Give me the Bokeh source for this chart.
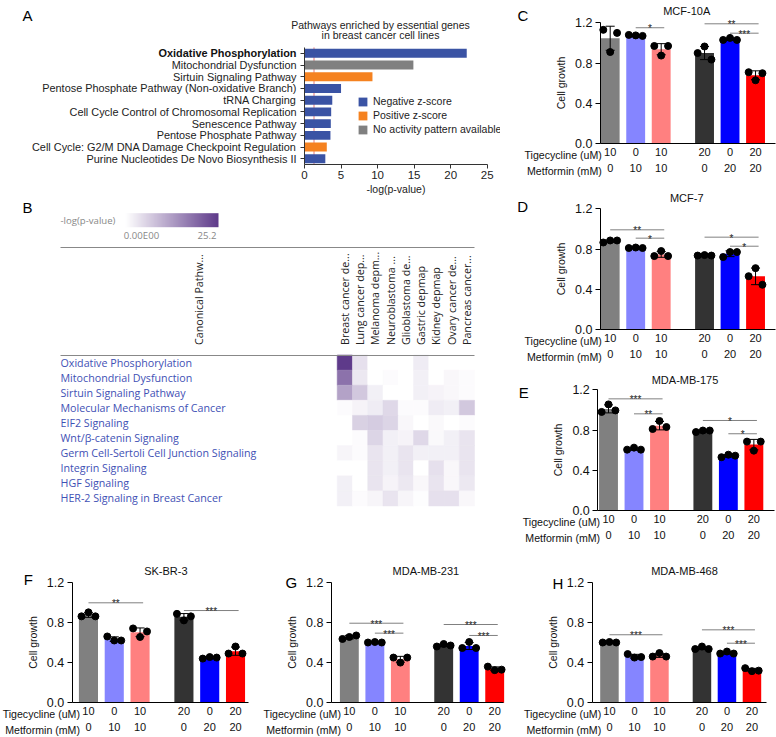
import numpy as np
from bokeh.plotting import figure
from bokeh.layouts import row, column
from bokeh.models import (Range1d, FixedTicker, LinearAxis, Label, Legend, LegendItem,
                          LinearColorMapper, ColorBar, Whisker, TeeHead, ColumnDataSource,
                          NumeralTickFormatter)
from bokeh.core.properties import value
from bokeh.embed import file_html
from bokeh.resources import INLINE

ARIAL = "Liberation Sans"
LUCIDA = "Open Sans"

# ---------------- Panel A data ----------------
a_title_1 = "Pathways enriched by essential genes"
a_title_2 = "in breast cancer cell lines"
a_pathways = ["Oxidative Phosphorylation", "Mitochondrial Dysfunction", "Sirtuin Signaling Pathway",
              "Pentose Phosphate Pathway (Non-oxidative Branch)", "tRNA Charging",
              "Cell Cycle Control of Chromosomal Replication", "Senescence Pathway",
              "Pentose Phosphate Pathway", "Cell Cycle: G2/M DNA Damage Checkpoint Regulation",
              "Purine Nucleotides De Novo Biosynthesis II"]
a_neglogp = [22.2, 14.9, 9.3, 5.0, 3.8, 3.65, 3.6, 3.55, 3.05, 2.85]
a_zscore = ["Negative z-score", "No activity pattern available", "Positive z-score",
            "Negative z-score", "Negative z-score", "Negative z-score", "Negative z-score",
            "Negative z-score", "Positive z-score", "Negative z-score"]
a_categories = ["Negative z-score", "Positive z-score", "No activity pattern available"]
a_colors = ["#3a53a4", "#f58220", "#808080"]
a_ticks = [0, 5, 10, 15, 20, 25]
a_threshold = 1.3
a_xlabel = "-log(p-value)"

# ---------------- Panel B data ----------------
b_pathways = ["Oxidative Phosphorylation", "Mitochondrial Dysfunction", "Sirtuin Signaling Pathway",
              "Molecular Mechanisms of Cancer", "EIF2 Signaling", "Wnt/β-catenin Signaling",
              "Germ Cell-Sertoli Cell Junction Signaling", "Integrin Signaling", "HGF Signaling",
              "HER-2 Signaling in Breast Cancer"]
b_first_col = "Canonical Pathw..."
b_datasets = ["Breast cancer de...", "Lung cancer dep...", "Melanoma depm...", "Neuroblastoma ...",
              "Glioblastoma de...", "Gastric depmap", "Kidney depmap", "Ovary cancer de...",
              "Pancreas cancer..."]
b_neglogp = [
    [25.2, 4.0, 0.0, 0.0, 0.0, 2.5, 0.0, 0.0, 0.0],
    [18.0, 3.0, 0.0, 0.5, 0.0, 2.0, 0.0, 1.0, 0.5],
    [12.0, 7.0, 2.0, 0.0, 0.0, 2.0, 1.5, 1.0, 0.5],
    [0.5, 1.5, 2.5, 5.0, 0.5, 0.5, 2.5, 2.0, 7.0],
    [0.0, 6.0, 6.5, 5.5, 1.0, 0.0, 0.8, 0.0, 0.5],
    [0.0, 0.5, 5.5, 2.0, 1.5, 5.0, 0.8, 2.0, 3.5],
    [1.3, 0.5, 3.5, 2.0, 3.5, 2.0, 2.0, 2.0, 3.5],
    [0.0, 0.0, 3.5, 2.0, 3.5, 0.0, 4.0, 1.0, 3.5],
    [2.0, 0.0, 3.5, 1.5, 3.0, 1.0, 3.5, 1.0, 3.0],
    [2.0, 0.5, 1.3, 3.5, 1.3, 0.3, 4.0, 4.0, 1.0],
]
b_low, b_high = 0.0, 25.2
b_cb_title = "-log(p-value)"
b_cb_low_label = "0.00E00"
b_cb_high_label = "25.2"

# ---------------- Bar panels data ----------------
tig_labels = ["10", "0", "10", "20", "0", "20"]
met_labels = ["0", "10", "10", "0", "20", "20"]
tig_name = "Tigecycline (uM)"
met_name = "Metformin (mM)"
y_ticks = [0.0, 0.4, 0.8, 1.2]
y_max = 1.2
ylabel = "Cell growth"

c_title = "MCF-10A"
c_points = [[1.13, 0.91, 1.10], [1.08, 1.075, 1.07], [0.97, 0.875, 0.97],
            [0.90, 0.965, 0.835], [1.03, 1.05, 1.03], [0.71, 0.63, 0.70]]
c_sigs = [(1, 2, 1.151, "*"), (3, 5, 1.190, "**"), (4, 5, 1.097, "***")]

d_title = "MCF-7"
d_points = [[0.865, 0.885, 0.885], [0.81, 0.815, 0.81], [0.73, 0.78, 0.73],
            [0.735, 0.74, 0.735], [0.72, 0.77, 0.77], [0.53, 0.61, 0.445]]
d_sigs = [(0, 2, 0.991, "**"), (1, 2, 0.908, "*"), (3, 5, 0.918, "*"), (4, 5, 0.828, "*")]

e_title = "MDA-MB-175"
e_points = [[0.98, 1.055, 0.995], [0.605, 0.625, 0.605], [0.81, 0.89, 0.83],
            [0.78, 0.795, 0.795], [0.53, 0.555, 0.545], [0.685, 0.595, 0.685]]
e_sigs = [(0, 2, 1.110, "***"), (1, 2, 0.961, "**"), (3, 5, 0.895, "*"), (4, 5, 0.763, "*")]

f_title = "SK-BR-3"
f_points = [[0.86, 0.90, 0.86], [0.66, 0.62, 0.62], [0.74, 0.655, 0.71],
            [0.885, 0.82, 0.86], [0.44, 0.455, 0.45], [0.49, 0.56, 0.49]]
f_sigs = [(0, 2, 0.995, "**"), (3, 5, 0.918, "***")]

g_title = "MDA-MB-231"
g_points = [[0.635, 0.655, 0.67], [0.60, 0.605, 0.60], [0.45, 0.40, 0.45],
            [0.56, 0.585, 0.57], [0.545, 0.605, 0.545], [0.36, 0.325, 0.33]]
g_sigs = [(0, 2, 0.792, "***"), (1, 2, 0.693, "***"), (3, 5, 0.779, "***"), (4, 5, 0.670, "***")]

h_title = "MDA-MB-468"
h_points = [[0.60, 0.605, 0.60], [0.485, 0.45, 0.455], [0.46, 0.495, 0.46],
            [0.535, 0.56, 0.535], [0.49, 0.51, 0.49], [0.345, 0.315, 0.32]]
h_sigs = [(0, 2, 0.677, "***"), (3, 5, 0.726, "***"), (4, 5, 0.593, "***")]

# ---------------- styles ----------------
XPOS = [0.0, 1.0, 2.0, 3.7, 4.7, 5.7]
BAR_COLORS = ["#808080", "#8585ff", "#ff8080", "#333333", "#0000ff", "#ff0000"]
JITTER = [-0.27, 0.0, 0.27]


def span_range(size_px, anchor_px, anchor_val, ppu, down=False):
    if not down:
        return Range1d(anchor_val - anchor_px / ppu, anchor_val + (size_px - anchor_px) / ppu)
    return Range1d(anchor_val + (size_px - anchor_px) / ppu, anchor_val - anchor_px / ppu)


def base_fig(width, height, x_range, y_range):
    p = figure(width=width, height=height, x_range=x_range, y_range=y_range,
               x_axis_location=None, y_axis_location=None, min_border=0,
               output_backend="svg", toolbar_location=None)
    p.title.visible = False
    p.outline_line_color = None
    p.grid.visible = False
    p.background_fill_color = "white"
    p.border_fill_color = "white"
    return p


def add_label(p, txt, x, y, size, align="left", baseline="alphabetic", color="black",
              font=ARIAL, style="normal", xu="screen", yu="screen", x_offset=0):
    p.add_layout(Label(x=x, y=y, x_units=xu, y_units=yu, text=txt, text_font=font,
                       text_font_size=size, text_color=color, text_align=align,
                       text_baseline=baseline, text_font_style=style, x_offset=x_offset))


# ---------------- Panel A ----------------
A_W, A_H = 500, 195
a_ax_px, a_ppu = 304, 7.308
a_row0_px, a_row_px = 52.8, 11.72
pa = base_fig(A_W, A_H, span_range(A_W, a_ax_px, 0, a_ppu),
              span_range(A_H, a_row0_px, 0, a_row_px, down=True))
nA = len(a_pathways)
pa.segment(x0=[a_threshold], x1=[a_threshold], y0=[-0.5], y1=[nA - 0.5], line_color="#e05555",
           line_width=0.8)
items = []
for cat, col in zip(a_categories, a_colors):
    idx = [i for i, z in enumerate(a_zscore) if z == cat]
    r = pa.hbar(y=idx, right=[a_neglogp[i] for i in idx], left=0, height=0.76,
                fill_color=col, line_color=None)
    items.append(LegendItem(label=cat, renderers=[r]))
leg = Legend(items=items, location=(357, A_H - 135), label_text_font=ARIAL, label_text_font_size="10.5px",
             label_text_color="#222", glyph_width=11, glyph_height=11, label_height=11, spacing=2,
             padding=0, margin=0, border_line_color=None, background_fill_alpha=0, label_standoff=5)
pa.add_layout(leg)
ax_a_x = LinearAxis(fixed_location=nA - 0.5, bounds=(0, a_ticks[-1]), ticker=FixedTicker(ticks=a_ticks),
                    axis_label=a_xlabel, axis_label_text_font=ARIAL, axis_label_text_font_size="10.5px",
                    axis_label_text_font_style="normal", axis_label_standoff=1,
                    major_label_text_font=ARIAL, major_label_text_font_size="11.5px",
                    major_label_standoff=2)
ax_a_y = LinearAxis(fixed_location=0, bounds=(-0.5, nA - 0.5), ticker=FixedTicker(ticks=list(range(nA))),
                    major_label_overrides={i: ("" if i == 0 else n) for i, n in enumerate(a_pathways)},
                    major_label_text_font=ARIAL, major_label_text_font_size="10.9px",
                    major_label_standoff=4)
for ax in (ax_a_x, ax_a_y):
    ax.axis_line_color = "#333"
    ax.major_tick_line_color = "#333"
    ax.major_tick_out = 4
    ax.major_tick_in = 0
    ax.minor_tick_line_color = None
    ax.major_label_text_color = "#222"
    ax.axis_label_text_color = "#222"
pa.add_layout(ax_a_x, "below")
pa.add_layout(ax_a_y, "left")
add_label(pa, a_pathways[0], 0, 0, "10.9px", align="right", baseline="middle", color="#111",
          style="bold", xu="data", yu="data", x_offset=-8)
add_label(pa, a_title_1, 380, A_H - 24, "10.5px", align="center", baseline="middle", color="#222")
add_label(pa, a_title_2, 380, A_H - 34, "10.5px", align="center", baseline="middle", color="#222")
add_label(pa, "A", 22, A_H - 15, "15px")

# ---------------- Panel B ----------------
B_W, B_H = 500, 350
B_TOP = 195
b_x0_px, b_cell_px = 336.7, 15.26
b_y0_px, b_row_px = 354.5 - B_TOP, 15.1
ncol = len(b_datasets)
nrow = len(b_pathways)
pb = base_fig(B_W, B_H, span_range(B_W, b_x0_px, 0, b_cell_px),
              span_range(B_H, b_y0_px, 0, b_row_px, down=True))
b_label_left = (60 - b_x0_px) / b_cell_px
b_top_line = (246.7 - B_TOP - b_y0_px) / b_row_px


def ramp(c0, c1, n=256):
    a = np.array([int(c0[i:i + 2], 16) for i in (1, 3, 5)], float)
    b = np.array([int(c1[i:i + 2], 16) for i in (1, 3, 5)], float)
    return ["#%02x%02x%02x" % tuple(int(round(v)) for v in (a + (b - a) * t))
            for t in np.linspace(0, 1, n)]


mapper = LinearColorMapper(palette=ramp("#ffffff", "#5e3a8a"), low=b_low, high=b_high)
hx, hy, hv = [], [], []
for i, rowvals in enumerate(b_neglogp):
    for j, v in enumerate(rowvals):
        hx.append(j + 0.5)
        hy.append(i + 0.5)
        hv.append(v)
hsrc = ColumnDataSource(dict(x=hx, y=hy, v=hv))
pb.rect(x="x", y="y", width=1, height=1, source=hsrc,
        fill_color={"field": "v", "transform": mapper},
        line_color={"field": "v", "transform": mapper}, line_width=0.5)
pb.text(x=[b_label_left] * nrow, y=[i + 0.5 for i in range(nrow)], text=b_pathways,
        text_align="left", text_baseline="middle", text_font=value(LUCIDA),
        text_font_size="10.7px", text_color="#3f51b5")
col_ticks = [b_label_left / 2] + [j + 0.5 for j in range(ncol)]
col_labels = [b_first_col] + b_datasets
bx = LinearAxis(fixed_location=0, bounds=(b_label_left, ncol), ticker=FixedTicker(ticks=col_ticks),
                major_label_overrides={t: l for t, l in zip(col_ticks, col_labels)},
                major_label_orientation=np.pi / 2, major_tick_line_color=None,
                minor_tick_line_color=None, axis_line_color="#888", major_label_standoff=4,
                major_label_text_font=LUCIDA, major_label_text_font_size="10.7px",
                major_label_text_color="#222")
pb.add_layout(bx, "above")
bx2 = LinearAxis(fixed_location=b_top_line, bounds=(b_label_left, ncol), ticker=FixedTicker(ticks=[]),
                 axis_line_color="#888", major_tick_line_color=None, minor_tick_line_color=None,
                 major_label_text_font_size="0px")
pb.add_layout(bx2, "above")
cb = ColorBar(color_mapper=mapper, orientation="horizontal", location=(125, B_H - (226.7 - B_TOP)),
              width=93, height=14, padding=0, ticker=FixedTicker(ticks=[]), major_tick_line_color=None,
              minor_tick_line_color=None, bar_line_color=None, border_line_color=None,
              background_fill_alpha=0, major_label_text_font_size="0px", label_standoff=0)
pb.add_layout(cb)
add_label(pb, b_cb_title, 60, B_H - (220 - B_TOP), "9.6px", baseline="middle", color="#888", font=LUCIDA)
add_label(pb, b_cb_low_label, 141, B_H - (235 - B_TOP), "9.6px", align="center", baseline="middle",
          color="#888", font=LUCIDA)
add_label(pb, b_cb_high_label, 216, B_H - (235 - B_TOP), "9.6px", align="right", baseline="middle",
          color="#888", font=LUCIDA)
add_label(pb, "B", 22, B_H - (207 - B_TOP), "15px")


# ---------------- bar panels ----------------
def bar_panel(ltr, title, points, sigs, W, H, ax_px, ppu_x, x_lo, x_hi, zero_px, top_px,
              letter_xy, title_y):
    ppu_y = (zero_px - top_px) / y_max
    p = base_fig(W, H, span_range(W, ax_px, x_lo, ppu_x), span_range(H, H - zero_px, 0, ppu_y))
    pts = np.array(points, float)
    means = pts.mean(axis=1)
    sds = pts.std(axis=1, ddof=1)
    src = ColumnDataSource(dict(x=XPOS, top=means, lower=means - sds, upper=means + sds, color=BAR_COLORS))
    p.vbar(x="x", top="top", width=0.74, fill_color="color", line_color=None, source=src)
    p.add_layout(Whisker(base="x", lower="lower", upper="upper", source=src, line_color="black",
                         line_width=1, upper_head=TeeHead(size=9, line_color="black", line_width=1),
                         lower_head=TeeHead(size=9, line_color="black", line_width=1),
                         level="annotation"))
    px = [XPOS[i] + JITTER[k] for i in range(len(XPOS)) for k in range(pts.shape[1])]
    p.scatter(x=px, y=pts.flatten().tolist(), size=7, fill_color="black", line_color="black")
    s0 = [XPOS[s[0]] for s in sigs]
    s1 = [XPOS[s[1]] + 0.12 for s in sigs]
    sy = [s[2] for s in sigs]
    p.segment(x0=s0, x1=s1, y0=sy, y1=sy, line_color="#808080", line_width=1)
    p.text(x=[(a + b) / 2 for a, b in zip(s0, s1)], y=sy, text=[s[3] for s in sigs],
           text_align="center", text_baseline="alphabetic", y_offset=1, text_font=value(ARIAL),
           text_font_size="10px", text_color="#222")
    ya = LinearAxis(fixed_location=x_lo, bounds=(0, y_max), ticker=FixedTicker(ticks=y_ticks),
                    formatter=NumeralTickFormatter(format="0.0"), axis_label=ylabel,
                    axis_label_text_font=ARIAL, axis_label_text_font_size="10.5px",
                    axis_label_text_font_style="normal", axis_label_standoff=5,
                    major_label_text_font=ARIAL, major_label_text_font_size="12.5px",
                    major_label_standoff=3, major_tick_out=5, major_tick_in=0,
                    minor_tick_line_color=None, axis_line_color="black", major_tick_line_color="black",
                    major_label_text_color="#111", axis_label_text_color="#111")
    p.add_layout(ya, "left")
    xa = LinearAxis(fixed_location=0, bounds=(x_lo, x_hi), ticker=FixedTicker(ticks=XPOS),
                    major_label_overrides={x: l for x, l in zip(XPOS, tig_labels)},
                    major_tick_line_color=None, minor_tick_line_color=None, major_tick_out=0,
                    major_tick_in=0, axis_line_color="black", major_label_standoff=4,
                    major_label_text_font=ARIAL, major_label_text_font_size="11px",
                    major_label_text_color="#111")
    p.add_layout(xa, "below")
    ma = LinearAxis(fixed_location=0, bounds=(x_lo, x_hi), ticker=FixedTicker(ticks=XPOS),
                    major_label_overrides={x: l for x, l in zip(XPOS, met_labels)},
                    axis_line_color=None, major_tick_line_color=None, minor_tick_line_color=None,
                    major_tick_out=0, major_tick_in=0, major_label_standoff=20,
                    major_label_text_font=ARIAL, major_label_text_font_size="11px",
                    major_label_text_color="#111")
    p.add_layout(ma, "below")
    for txt, dy in ((tig_name, 11), (met_name, 27)):
        add_label(p, txt, XPOS[0] - 0.33, H - zero_px - dy, "10.6px", align="right",
                  baseline="middle", color="#111", xu="data")
    add_label(p, title, (XPOS[0] + XPOS[-1]) / 2 + 0.15, H - title_y, "11px", align="center",
              baseline="middle", color="#111", xu="data")
    add_label(p, ltr, letter_xy[0], H - letter_xy[1], "15px")
    return p


pc = bar_panel("C", c_title, c_points, c_sigs, 276, 185, 100, 25.5, -0.38, 6.5, 143.3, 22.3, (17, 15), 10.8)
pd_ = bar_panel("D", d_title, d_points, d_sigs, 276, 180, 100, 25.5, -0.38, 6.5, 144, 23.3, (16.7, 20.7), 12.5)
pe = bar_panel("E", e_title, e_points, e_sigs, 276, 180, 97.3, 25.5, -0.42, 6.5, 145, 24.3, (18.3, 26.7), 14)
pf = bar_panel("F", f_title, f_points, f_sigs, 260, 192, 71.7, 25.8, -0.63, 6.2, 157.3, 36.7, (23.3, 34.3), 25)
pg = bar_panel("G", g_title, g_points, g_sigs, 255, 192, 71, 25.5, -0.7, 6.05, 157.3, 36.7, (25, 36.7), 25)
ph = bar_panel("H", h_title, h_points, h_sigs, 261, 192, 76.7, 25.0, -0.69, 6.28, 157.3, 36.7, (37, 38.3), 25)

layout = column(row(column(pa, pb), column(pc, pd_, pe)), row(pf, pg, ph))
open("out.html", "w").write(file_html(layout, INLINE))
